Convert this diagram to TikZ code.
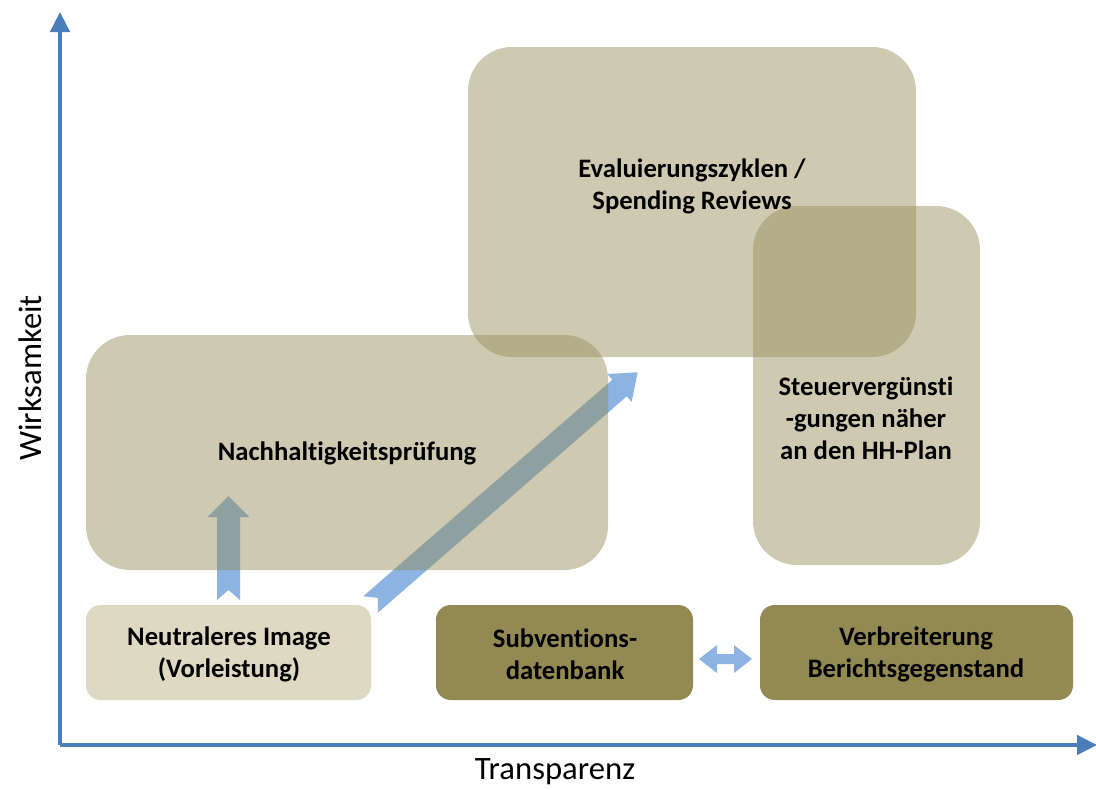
\documentclass[tikz,border=0pt]{standalone}
\usepackage{fontspec}
\setmainfont{Carlito}[RawFeature={-liga}]
\usetikzlibrary{arrows.meta}
\definecolor{axisblue}{RGB}{74,126,187}
\definecolor{arrowblue}{RGB}{141,179,226}
\definecolor{olive}{RGB}{147,137,83}
\definecolor{lighttan}{RGB}{221,217,195}
\tikzset{
  axisline/.style={draw=axisblue, line width=2.6pt, -{Triangle[length=15pt,width=14.5pt]}},
  bigbox/.style={fill=olive, fill opacity=0.45, rounded corners=33pt, inner sep=0pt, outer sep=0pt},
  smallbox/.style={rounded corners=11pt, inner sep=0pt, outer sep=0pt, minimum height=71.25pt},
  lbl/.style={font=\bfseries\fontsize{20}{24}\selectfont, align=center, text=black},
  axislbl/.style={font=\fontsize{24.5}{28}\selectfont, text=black},
  fatarrow/.style={fill=arrowblue},
}
\begin{document}
\begin{tikzpicture}[x=0.75pt,y=-0.75pt]
\useasboundingbox (0,0) rectangle (1096,789);
% axes
\coordinate (O) at (60,745);
\coordinate (Ytip) at (60,12);
\coordinate (Xtip) at (1097,745);
\draw[axisline] (O) -- (Ytip);
\draw[axisline] (O) -- (Xtip);
\node[axislbl, rotate=90] (ylab) at (30,378) {Wirksamkeit};
\node[axislbl] (xlab) at (555,772) {Transparenz};
% blue arrows (drawn below the translucent boxes)
\begin{scope}[shift={(228.5,600)}, rotate=90]
  \fill[fatarrow] (0,11.5) -- (83,11.5) -- (83,21) -- (104,0) -- (83,-21) -- (83,-11.5) -- (0,-11.5) -- (10,0) -- cycle;
\end{scope}
\begin{scope}[shift={(370.5,604.5)}, rotate=41]
  \fill[fatarrow] (0,11) -- (330,11) -- (330,18.5) -- (354,0) -- (330,-18.5) -- (330,-11) -- (0,-11) -- (10,0) -- cycle;
\end{scope}
\fill[fatarrow] (699,659) -- (717,645) -- (717,654) -- (734,654) -- (734,645) -- (752,659) -- (734,673) -- (734,664) -- (717,664) -- (717,673) -- cycle;
% big translucent boxes
\node[bigbox, minimum width=336pt, minimum height=232.5pt] (eval) at (692,202) {};
\node[bigbox, minimum width=391.5pt, minimum height=176.25pt] (nach) at (347,452.5) {};
\node[bigbox, minimum width=170.25pt, minimum height=269.25pt] (steu) at (866.5,385.5) {};
% bottom boxes
\node[smallbox, fill=lighttan, minimum width=213.75pt] (neut) at (228.5,652.5) {};
\node[smallbox, fill=olive, minimum width=192.75pt] (subv) at (564.5,652.5) {};
\node[smallbox, fill=olive, minimum width=234.75pt] (verb) at (916.5,652.5) {};
% texts
\node[lbl] (evalt) at (692,186) {Evaluierungszyklen /\\Spending Reviews};
\node[lbl] (nacht) at (347,453) {Nachhaltigkeitsprüfung};
\node[lbl] (steut) at (866,418) {Steuervergünsti\\-gungen näher\\an den HH-Plan};
\node[lbl] (neutt) at (229,654) {Neutraleres Image\\(Vorleistung)};
\node[lbl] (subvt) at (565,654) {Subventions-\\datenbank};
\node[lbl] (verbt) at (916,654) {Verbreiterung\\Berichtsgegenstand};
\end{tikzpicture}
\end{document}
